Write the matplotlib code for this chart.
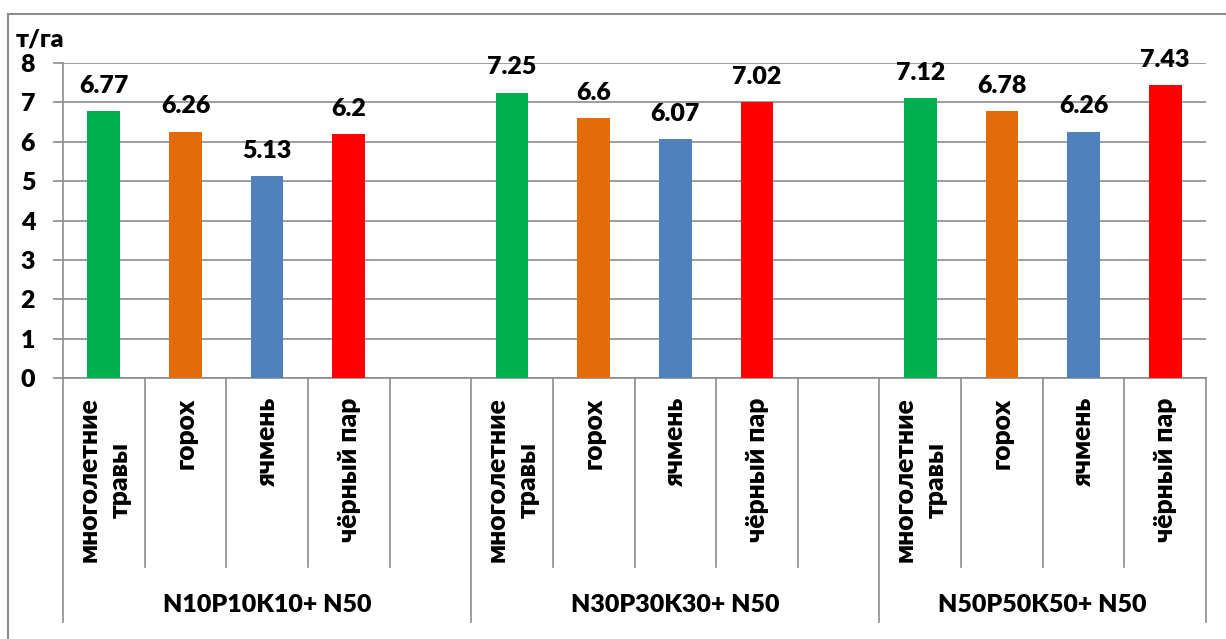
import numpy as np
import matplotlib.pyplot as plt
from matplotlib.patches import Rectangle

plt.rcParams['font.family'] = ['Lato', 'DejaVu Sans']
plt.rcParams['font.weight'] = 'heavy'

# yields, t/ha, per fertiliser scheme and predecessor
crops = ['многолетние\nтравы', 'горох', 'ячмень', 'чёрный пар']
groups = ['N10P10K10+ N50', 'N30P30K30+ N50', 'N50P50K50+ N50']
yield_g1 = [6.77, 6.26, 5.13, 6.2]
yield_g2 = [7.25, 6.6, 6.07, 7.02]
yield_g3 = [7.12, 6.78, 6.26, 7.43]
colors = ['#00B050', '#E36C09', '#4F81BD', '#FF0000']

grid_c = '#8c8c8c'
fw = 'heavy'
W, H = 1226, 639
fig = plt.figure(figsize=(W / 100, H / 100), dpi=100)

# outer chart frame (runs off the right and bottom edge)
fig.patches.append(Rectangle((8 / W, -0.1), 1.2, 1 - 14 / H + 0.1, transform=fig.transFigure,
                             fill=False, edgecolor=grid_c, linewidth=1.5))

ax = fig.add_axes([63 / W, (H - 378) / H, 1143 / W, 315 / H])

# 5 slots per group, the last group has no trailing gap
series = [yield_g1, yield_g2, yield_g3]
xs, vals, cols, labels = [], [], [], []
for g, s in enumerate(series):
    for i, v in enumerate(s):
        xs.append(g * 5 + i)
        vals.append(v)
        cols.append(colors[i])
        labels.append(crops[i])

ax.bar(xs, vals, width=0.4, color=cols, zorder=3)
for x, v in zip(xs, vals):
    ax.annotate(f'{v:g}', (x, v), xytext=(0, 13), textcoords='offset points',
                ha='center', va='baseline', fontsize=18, fontweight=fw)

ax.set_xlim(-0.5, 13.5)
ax.set_ylim(0, 8)
ax.set_yticks(range(0, 9))
ax.yaxis.grid(True, color=grid_c, linewidth=1.2)
ax.set_axisbelow(True)
ax.tick_params(axis='y', length=7, width=1.2, color=grid_c, pad=13, labelsize=18)
for lab in ax.get_yticklabels():
    lab.set_fontweight(fw)

ax.set_xticks(xs)
ax.set_xticklabels(labels, rotation=90, ha='center', va='top', multialignment='center',
                   fontsize=19, fontweight=fw, linespacing=1.35)
ax.tick_params(axis='x', length=0, pad=14)

for sp in ['top', 'right']:
    ax.spines[sp].set_visible(False)
for sp in ['left', 'bottom']:
    ax.spines[sp].set_color(grid_c)
    ax.spines[sp].set_linewidth(1.2)

# category separators below the axis
xt = ax.get_xaxis_transform()
bounds = np.arange(-0.5, 14, 1.0)
long_b = [-0.5, 4.5, 9.5, 13.5]
for b in bounds:
    bottom = -0.775 if b in long_b else -0.6
    ax.plot([b, b], [0, bottom], color=grid_c, linewidth=1.2, transform=xt, clip_on=False)

centers = [2.0, 7.0, 11.5]
for c, name in zip(centers, groups):
    ax.text(c, -0.72, name, transform=xt, ha='center', va='center',
            fontsize=18, fontweight=fw)

fig.text(16 / W, 1 - 40 / H, 'т/га', ha='left', va='center', fontsize=18, fontweight=fw)

fig.savefig('out.png', dpi=100)
